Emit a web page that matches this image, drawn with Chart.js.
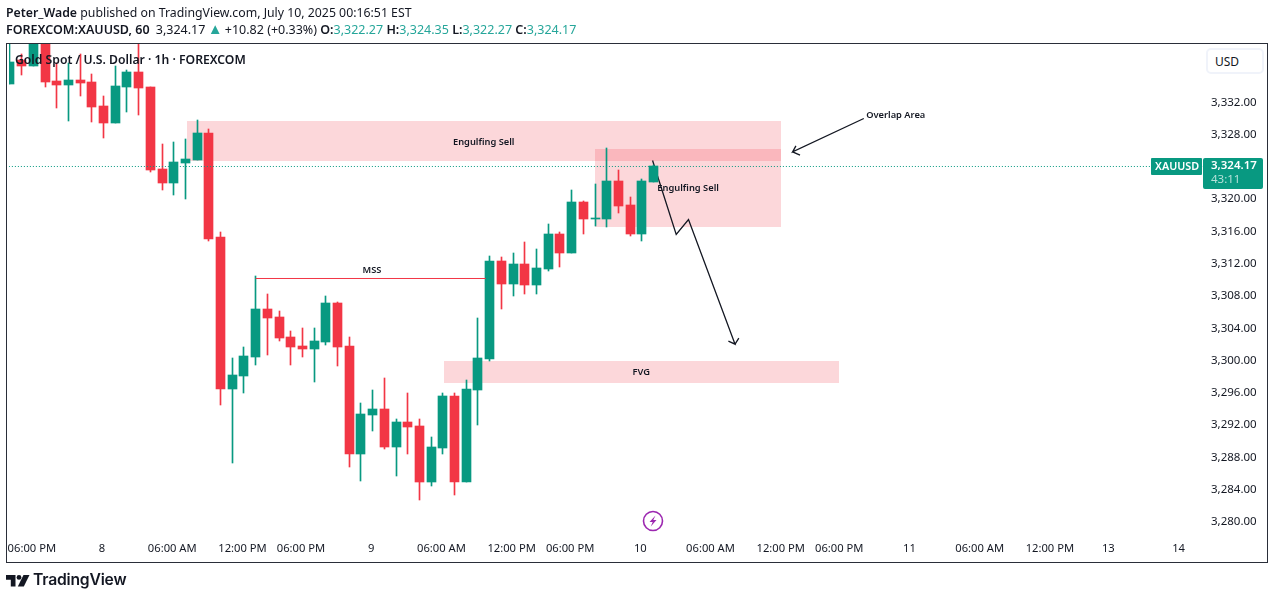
<!DOCTYPE html>
<html>
<head>
<meta charset="utf-8">
<title>XAUUSD 1h</title>
<script src="https://cdn.jsdelivr.net/npm/chart.js@4"></script>
<style>
    html, body { margin: 0; padding: 0; background: #ffffff; overflow: hidden; }
    body { width: 1275px; height: 599px; position: relative; font-family: "Noto Sans", sans-serif; color: #131722; }
    canvas { position: absolute; left: 0; top: 0; }
    .abs { position: absolute; white-space: nowrap; }
    #frame { left: 6px; top: 43px; width: 1262px; height: 520px; box-sizing: border-box; border: 1px solid #2a2e39; }
    #line1 { left: 6px; top: 4px; font-size: 12.3px; line-height: 17px; }
    #line2 { left: 6px; top: 21px; font-size: 12.5px; line-height: 17px; }
    #title { left: 15px; top: 51px; font-size: 12.2px; line-height: 18px; font-weight: 600; }
    #usd { left: 1206px; top: 48px; width: 58px; height: 26px; box-sizing: border-box; border: 2px solid #f0f3fa; border-radius: 5px; font-size: 12px; line-height: 24px; padding-left: 7px; background: #fff; }
    #logoText { left: 33px; top: 569px; font-family: Inter, sans-serif; font-size: 15.7px; line-height: 22px; font-weight: 600; letter-spacing: -0.2px; }
    #price { margin-left: 3px; }
    #arrowUp { font-size: 15px; line-height: 0; margin: 0 -1px 0 -1px; }
    .up { color: #26a69a; }
    b { font-weight: 600; }
</style>
</head>
<body>
<canvas id="goldChart" width="1275" height="599"></canvas>
<div class="abs" id="frame"></div>
<div class="abs" id="line1"><b>Peter_Wade</b> published on TradingView.com, July 10, 2025 00:16:51 EST</div>
<div class="abs" id="line2"><b>FOREXCOM:XAUUSD, 60</b><span id="price"> 3,324.17</span> <span class="up" id="arrowUp">▲</span> +10.82 (+0.33%) <b>O:</b><span class="up">3,322.27</span> <b>H:</b><span class="up">3,324.35</span> <b>L:</b><span class="up">3,322.27</span> <b>C:</b><span class="up">3,324.17</span></div>
<div class="abs" id="title">Gold Spot / U.S. Dollar · 1h · FOREXCOM</div>
<div class="abs" id="usd">USD</div>
<svg class="abs" style="left:642px;top:510px" width="22" height="22" viewBox="0 0 22 22">
    <circle cx="11" cy="11" r="9.5" fill="none" stroke="#9c27b0" stroke-width="1.6"/>
    <path d="M13.5 5.5 L7.5 12 L10.7 12 L8.8 16.5 L14.5 10 L11.3 10 Z" fill="#9c27b0"/>
</svg>
<svg class="abs" style="left:6px;top:575px" width="24" height="12" viewBox="0 0 24 12">
    <path d="M0 0 H9.5 V11.5 H4.8 V4.8 H0 Z" fill="#131722"/>
    <circle cx="13" cy="2.4" r="2.4" fill="#131722"/>
    <path d="M17.5 0 H23.5 L17.8 11.5 H11.8 Z" fill="#131722"/>
</svg>
<div class="abs" id="logoText">TradingView</div>

<script>
// candles, one per hour
const opens = [3334.37, 3337.34, 3336.60, 3340.00, 3334.74, 3334.24, 3334.86, 3334.62, 3331.64, 3329.54, 3334.00, 3335.86, 3334.00, 3323.84, 3322.10, 3324.58, 3324.95, 3328.30, 3315.41, 3296.57, 3298.18, 3300.54, 3306.49, 3305.50, 3303.02, 3301.90, 3301.53, 3302.40, 3307.23, 3301.90, 3288.52, 3293.35, 3294.10, 3289.39, 3292.48, 3291.99, 3285.05, 3289.26, 3295.71, 3285.05, 3296.45, 3300.29, 3312.44, 3309.59, 3312.06, 3309.46, 3311.44, 3315.78, 3313.43, 3319.75, 3317.64, 3317.64, 3322.35, 3319.37, 3315.78, 3322.27];
const highs = [3340.50, 3338.09, 3341.00, 3341.00, 3336.97, 3336.97, 3338.09, 3335.61, 3332.88, 3336.60, 3336.10, 3341.00, 3334.00, 3326.93, 3327.18, 3327.55, 3329.91, 3328.79, 3316.03, 3300.42, 3301.78, 3310.58, 3308.35, 3306.24, 3303.76, 3304.13, 3304.13, 3308.10, 3307.35, 3303.02, 3294.84, 3296.45, 3297.94, 3292.86, 3296.08, 3292.86, 3290.63, 3296.08, 3296.08, 3297.69, 3305.37, 3313.05, 3312.93, 3313.43, 3314.79, 3313.92, 3317.02, 3316.03, 3321.23, 3319.87, 3321.98, 3326.44, 3323.71, 3320.37, 3322.60, 3324.35];
const lows = [3334.37, 3335.48, 3336.60, 3334.00, 3331.39, 3329.78, 3332.88, 3329.66, 3327.68, 3329.54, 3330.90, 3330.53, 3323.46, 3321.23, 3320.61, 3320.12, 3324.95, 3314.91, 3294.59, 3287.40, 3296.08, 3299.55, 3300.79, 3302.52, 3299.55, 3300.54, 3297.44, 3302.03, 3299.42, 3286.91, 3285.17, 3291.37, 3289.14, 3285.79, 3288.52, 3282.82, 3284.55, 3288.52, 3283.44, 3285.05, 3292.11, 3300.04, 3306.49, 3308.10, 3308.35, 3308.35, 3311.20, 3311.69, 3313.43, 3315.78, 3316.77, 3316.65, 3318.38, 3315.53, 3314.91, 3322.27];
const closes = [3337.09, 3336.60, 3340.00, 3334.62, 3334.24, 3334.86, 3334.49, 3331.52, 3329.54, 3334.12, 3335.86, 3333.87, 3323.71, 3322.10, 3324.70, 3325.07, 3328.30, 3315.16, 3296.57, 3298.31, 3300.66, 3306.49, 3305.37, 3302.89, 3301.78, 3301.53, 3302.52, 3307.23, 3301.78, 3288.52, 3293.48, 3294.10, 3289.39, 3292.48, 3291.87, 3285.05, 3289.39, 3295.71, 3285.05, 3296.57, 3300.42, 3312.44, 3309.59, 3312.06, 3309.46, 3311.57, 3315.78, 3313.43, 3319.75, 3317.64, 3317.76, 3322.35, 3319.25, 3315.78, 3322.35, 3324.17];
const lastPrice = 3324.17;

// axes
const priceTicks = [3280, 3284, 3288, 3292, 3296, 3300, 3304, 3308, 3312, 3316, 3320, 3328, 3332];
const timeTickIndex = [2, 8, 14, 20, 25, 31, 37, 43, 48, 54, 60, 66, 71, 77, 83, 89, 94, 100];
const timeTickLabels = ["06:00 PM", "8", "06:00 AM", "12:00 PM", "06:00 PM", "9", "06:00 AM", "12:00 PM", "06:00 PM", "10", "06:00 AM", "12:00 PM", "06:00 PM", "11", "06:00 AM", "12:00 PM", "13", "14"];

// drawings on the chart, as candle index and price
const zoneStart = [15.09, 50.04, 37.08];
const zoneEnd = [65.90, 65.90, 70.84];
const zoneTop = [3329.78, 3326.31, 3300.04];
const zoneBottom = [3324.83, 3316.65, 3297.32];
const noteLabels = ["Engulfing Sell", "Engulfing Sell", "Overlap Area", "MSS", "FVG"];
const noteIndex = [40.49, 57.96, 75.70, 30.94, 53.96];
const notePrice = [3327.20, 3321.45, 3330.55, 3311.30, 3298.60];
const mssLine = [{ x: 21, y: 3310.29 }, { x: 40.66, y: 3310.29 }];
const moveArrow = [{ x: 54.92, y: 3324.91 }, { x: 56.94, y: 3315.74 }, { x: 57.99, y: 3317.60 }, { x: 61.97, y: 3302.15 }, { x: 61.40, y: 3302.52 }, { x: 61.97, y: 3302.15 }, { x: 62.29, y: 3302.89 }];
const overlapArrow = [{ x: 72.97, y: 3330.12 }, { x: 66.89, y: 3325.98 }, { x: 67.17, y: 3326.72 }, { x: 66.89, y: 3325.98 }, { x: 67.52, y: 3325.57 }];

const upColor = "#089981";
const downColor = "#F23645";
const xMin = -0.09;
const xMax = 102.045;
const yMin = 3278.75;
const yMax = 3339.35;

const candleColors = opens.map((o, i) => closes[i] >= o ? upColor : downColor);
const bodies = opens.map((o, i) => ({ x: i, y: [o, closes[i]] }));
const wicks = opens.map((o, i) => ({ x: i, y: [lows[i], highs[i]] }));

// bars land on whole pixels, otherwise the 1px wicks go blurry
const snapBars = {
    id: "snapBars",
    afterDatasetsUpdate(chart) {
        [0, 1].forEach(d => {
            chart.getDatasetMeta(d).data.forEach(bar => {
                bar.x = Math.floor(bar.x) + 0.5;
                bar.y = Math.round(bar.y);
                bar.base = Math.round(bar.base);
                if (bar.y === bar.base) bar.base = bar.y + 1;
            });
        });
    }
};

const drawings = {
    id: "drawings",
    beforeDatasetsDraw(chart) {
        const { ctx, scales: { x, y } } = chart;
        ctx.save();
        ctx.fillStyle = "rgba(242, 54, 69, 0.2)";
        zoneStart.forEach((start, i) => {
            const left = Math.round(x.getPixelForValue(start));
            const top = Math.round(y.getPixelForValue(zoneTop[i]));
            ctx.fillRect(left, top, Math.round(x.getPixelForValue(zoneEnd[i])) - left, Math.round(y.getPixelForValue(zoneBottom[i])) - top);
        });
        ctx.restore();
    },
    afterDatasetsDraw(chart) {
        const { ctx, scales: { x, y } } = chart;
        ctx.save();
        ctx.fillStyle = "#131722";
        ctx.font = "600 9.3px 'Noto Sans'";
        ctx.textAlign = "center";
        ctx.textBaseline = "middle";
        noteLabels.forEach((text, i) => {
            ctx.fillText(text, x.getPixelForValue(noteIndex[i]), y.getPixelForValue(notePrice[i]));
        });

        // last price tags on the scale
        const tagTop = Math.round(y.getPixelForValue(lastPrice)) - 8;
        ctx.fillStyle = upColor;
        ctx.beginPath();
        ctx.roundRect(1151, tagTop, 51, 17, 1);
        ctx.roundRect(1203, tagTop, 60, 31, 2);
        ctx.fill();
        ctx.fillStyle = "#ffffff";
        ctx.textAlign = "left";
        ctx.font = "600 10.8px 'Noto Sans'";
        ctx.fillText("XAUUSD", 1155, tagTop + 9);
        ctx.font = "600 11.5px 'Noto Sans'";
        ctx.fillText("3,324.17", 1211, tagTop + 8);
        ctx.fillStyle = "rgba(255, 255, 255, 0.7)";
        ctx.font = "11.5px 'Noto Sans'";
        ctx.fillText("43:11", 1211, tagTop + 22);
        ctx.restore();
    }
};

const lineDefaults = { type: "line", pointRadius: 0, borderWidth: 1, tension: 0, fill: false };

new Chart(document.getElementById("goldChart").getContext("2d"), {
    type: "bar",
    data: {
        datasets: [
            { data: wicks, backgroundColor: candleColors, barThickness: 1, grouped: false, order: 4 },
            { data: bodies, backgroundColor: candleColors, barThickness: 9, grouped: false, order: 3 },
            { ...lineDefaults, data: [{ x: xMin, y: lastPrice }, { x: xMax, y: lastPrice }], borderColor: upColor, borderDash: [1, 2], order: 2 },
            { ...lineDefaults, data: mssLine, borderColor: downColor, order: 1 },
            { ...lineDefaults, data: moveArrow, borderColor: "#131722", borderWidth: 1.3, order: 5 },
            { ...lineDefaults, data: overlapArrow, borderColor: "#131722", borderWidth: 1.3, order: 5 }
        ]
    },
    options: {
        responsive: false,
        animation: false,
        devicePixelRatio: 1,
        layout: { padding: { left: 6, right: 7, top: 44, bottom: 37 } },
        plugins: { legend: { display: false }, tooltip: { enabled: false } },
        scales: {
            x: {
                type: "linear",
                offset: false,
                min: xMin,
                max: xMax,
                grid: { display: false, drawTicks: false },
                border: { display: false },
                afterBuildTicks(scale) { scale.ticks = timeTickIndex.map(value => ({ value })); },
                afterFit(scale) { scale.height = 29; },
                ticks: {
                    autoSkip: false,
                    maxRotation: 0,
                    padding: 9,
                    labelOffset: -1.5,
                    color: "#131722",
                    font: { family: "'Noto Sans'", size: 11.2 },
                    callback: value => timeTickLabels[timeTickIndex.indexOf(value)]
                }
            },
            y: {
                position: "right",
                min: yMin,
                max: yMax,
                grid: { display: false, drawTicks: false },
                border: { display: false },
                afterBuildTicks(scale) { scale.ticks = priceTicks.map(value => ({ value })); },
                afterFit(scale) { scale.width = 64; },
                ticks: {
                    padding: 7,
                    labelOffset: -1,
                    color: "#131722",
                    font: { family: "'Noto Sans'", size: 11.5 },
                    callback: value => value.toLocaleString("en-US", { minimumFractionDigits: 2 })
                }
            }
        }
    },
    plugins: [snapBars, drawings]
});
</script>
</body>
</html>
